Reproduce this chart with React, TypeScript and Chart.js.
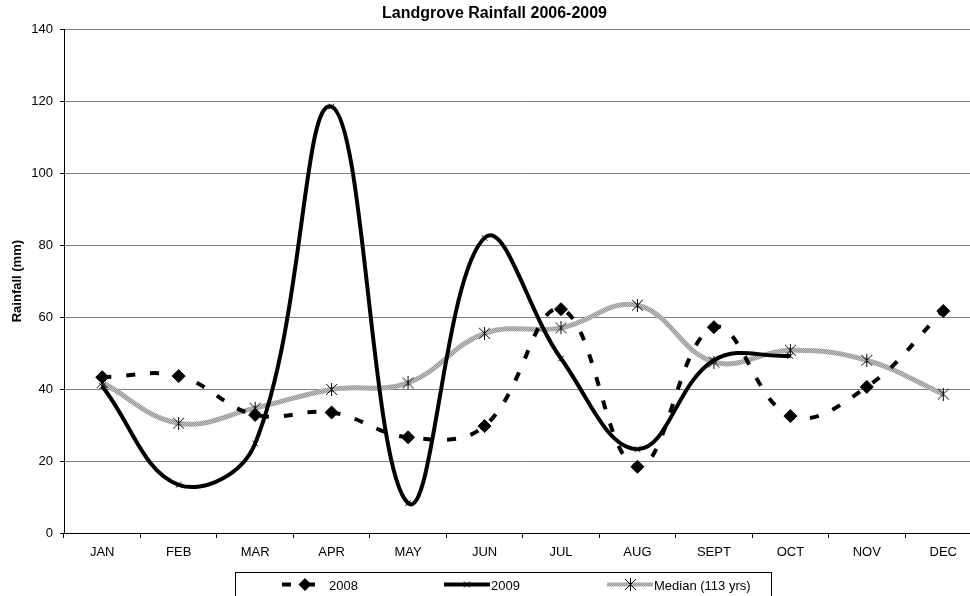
import React, { useEffect, useRef } from 'react';
import { Chart, registerables } from 'chart.js';

Chart.register(...registerables);

// ---- data ----
const months = ['JAN', 'FEB', 'MAR', 'APR', 'MAY', 'JUN', 'JUL', 'AUG', 'SEPT', 'OCT', 'NOV', 'DEC'];
const rain2008 = [43.3, 43.6, 32.8, 33.5, 26.6, 29.7, 62.2, 18.4, 57.2, 32.5, 40.6, 61.7];
const rain2009 = [40.8, 13.4, 24.9, 118.5, 8.3, 82, 48.5, 23.3, 48, 49.2, null, null];
const medianRain = [41.8, 30.5, 34.7, 39.9, 41.7, 55.5, 57, 63.3, 47.5, 50.8, 48, 38.6];
const seriesNames = ['2008', '2009', 'Median (113 yrs)'];
const chartTitle = 'Landgrove Rainfall 2006-2009';
const yAxisTitle = 'Rainfall (mm)';
const yMin = 0;
const yMax = 140;
const yStep = 20;

const FONT = "'Liberation Sans', Arial, Helvetica, sans-serif";

function makeAsterisk(size: number): HTMLCanvasElement {
  const c = document.createElement('canvas');
  c.width = size;
  c.height = size;
  const g = c.getContext('2d')!;
  g.strokeStyle = '#000';
  g.lineWidth = 1;
  g.beginPath();
  g.moveTo(1, 1);
  g.lineTo(size - 1, size - 1);
  g.moveTo(size - 1, 1);
  g.lineTo(1, size - 1);
  g.moveTo(size / 2, 0);
  g.lineTo(size / 2, size);
  g.stroke();
  return c;
}

function makeTexture(ctx: CanvasRenderingContext2D): CanvasPattern | string {
  const c = document.createElement('canvas');
  c.width = 2;
  c.height = 2;
  const g = c.getContext('2d')!;
  g.fillStyle = '#929292';
  g.fillRect(0, 0, 2, 2);
  g.fillStyle = '#c6c6c6';
  g.fillRect(0, 0, 1, 1);
  g.fillRect(1, 1, 1, 1);
  return ctx.createPattern(c, 'repeat') || '#a4a4a4';
}

export default function App() {
  const ref = useRef<HTMLCanvasElement | null>(null);

  useEffect(() => {
    const canvas = ref.current;
    if (!canvas) return;
    const ctx = canvas.getContext('2d')!;
    const asterisk = makeAsterisk(13);
    const texture = makeTexture(ctx);

    const legendPlugin = {
      id: 'excelLegend',
      afterDraw(chart: any) {
        const c = chart.ctx as CanvasRenderingContext2D;
        c.save();
        c.strokeStyle = '#000';
        c.lineWidth = 1;
        c.setLineDash([]);
        c.strokeRect(235.5, 572.5, 536, 40);
        const starts = [282, 444, 607];
        const sw = 46;
        const ly = 584.5;
        chart.data.datasets.forEach((ds: any, i: number) => {
          const x0 = starts[i];
          c.save();
          c.beginPath();
          c.strokeStyle = ds.borderColor;
          c.lineWidth = i === 2 ? 4 : ds.borderWidth;
          c.setLineDash(ds.borderDash || []);
          c.moveTo(x0, ly);
          c.lineTo(x0 + sw, ly);
          c.stroke();
          c.restore();
          const cx = x0 + sw / 2;
          c.save();
          c.setLineDash([]);
          if (i === 0) {
            c.fillStyle = '#000';
            c.beginPath();
            c.moveTo(cx - 6.5, ly);
            c.lineTo(cx, ly - 6.5);
            c.lineTo(cx + 6.5, ly);
            c.lineTo(cx, ly + 6.5);
            c.closePath();
            c.fill();
          } else if (i === 1) {
            c.strokeStyle = '#000';
            c.lineWidth = 1;
            c.beginPath();
            c.moveTo(cx - 3, ly - 3);
            c.lineTo(cx + 3, ly + 3);
            c.moveTo(cx + 3, ly - 3);
            c.lineTo(cx - 3, ly + 3);
            c.stroke();
          } else {
            c.drawImage(asterisk, Math.round(cx - 6.5), Math.round(ly - 6.5));
          }
          c.restore();
          c.fillStyle = '#000';
          c.font = `13px ${FONT}`;
          c.textAlign = 'left';
          c.textBaseline = 'middle';
          c.fillText(ds.label, x0 + sw + 1, 586);
        });
        c.restore();
      },
    };

    const chart = new Chart(canvas, {
      type: 'line',
      data: {
        labels: months,
        datasets: [
          {
            label: seriesNames[0],
            data: rain2008,
            borderColor: '#000',
            backgroundColor: '#000',
            borderWidth: 4,
            borderDash: [9, 15],
            tension: 0.4,
            fill: false,
            pointStyle: 'rectRot',
            pointRadius: 6.5,
            pointBackgroundColor: '#000',
            pointBorderColor: '#000',
            pointBorderWidth: 1,
            order: 1,
          },
          {
            label: seriesNames[1],
            data: rain2009,
            borderColor: '#000',
            backgroundColor: '#000',
            borderWidth: 4,
            tension: 0.4,
            fill: false,
            spanGaps: false,
            pointStyle: 'crossRot',
            pointRadius: 4,
            pointBorderColor: '#000',
            pointBorderWidth: 1,
            order: 0,
          },
          {
            label: seriesNames[2],
            data: medianRain,
            borderColor: texture as any,
            backgroundColor: '#a0a0a0',
            borderWidth: 5,
            tension: 0.4,
            fill: false,
            pointStyle: asterisk as any,
            pointRadius: 6.5,
            order: 2,
          },
        ],
      },
      options: {
        animation: false,
        responsive: false,
        maintainAspectRatio: false,
        layout: { padding: { left: 0, right: 4, top: 0, bottom: 47 } },
        plugins: {
          legend: { display: false },
          tooltip: { enabled: false },
          title: {
            display: true,
            text: chartTitle,
            color: '#000',
            font: { family: FONT, size: 16, weight: 'bold' },
            padding: { top: 4, bottom: 6 },
          },
        },
        scales: {
          x: {
            type: 'category',
            offset: true,
            grid: {
              offset: true,
              drawOnChartArea: false,
              drawTicks: true,
              tickLength: 5,
              color: '#000',
            },
            border: { color: '#000', width: 1 },
            ticks: {
              color: '#000',
              font: { family: FONT, size: 13 },
              padding: 7,
              maxRotation: 0,
              autoSkip: false,
            },
            afterFit: (s: any) => {
              s.height = 30;
              s.paddingLeft = 0;
              s.paddingRight = 0;
            },
          },
          y: {
            min: yMin,
            max: yMax,
            ticks: {
              stepSize: yStep,
              color: '#000',
              font: { family: FONT, size: 13 },
              padding: 7,
            },
            grid: {
              color: (c: any) => (c.tick && c.tick.value === 0 ? '#000' : '#808080'),
              tickColor: '#000',
              tickLength: 4,
              lineWidth: 1,
            },
            border: { color: '#000', width: 1 },
            title: {
              display: true,
              text: yAxisTitle,
              color: '#000',
              font: { family: FONT, size: 13, weight: 'bold' },
              padding: { top: 10, bottom: 0 },
            },
            afterFit: (s: any) => {
              s.width = 64;
            },
          },
        },
      },
      plugins: [legendPlugin],
    });

    return () => {
      chart.destroy();
    };
  }, []);

  return (
    <div
      style={{
        position: 'fixed',
        left: 0,
        top: 0,
        width: 970,
        height: 596,
        overflow: 'hidden',
        background: '#fff',
      }}
    >
      <canvas ref={ref} width={993} height={610} style={{ display: 'block', width: 993, height: 610 }} />
    </div>
  );
}
